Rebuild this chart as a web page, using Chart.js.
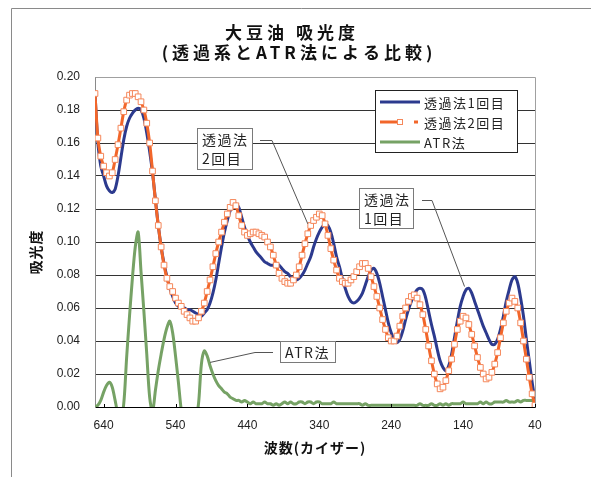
<!DOCTYPE html>
<html>
<head>
<meta charset="utf-8">
<script src="https://cdn.jsdelivr.net/npm/chart.js@4.4.1/dist/chart.umd.min.js"></script>
<style>
  html, body { margin: 0; padding: 0; background: #fff; }
  canvas { display: block; }
</style>
</head>
<body>
<canvas id="chart" width="591" height="477"></canvas>
<script>
// Wavenumbers (cm-1), high to low
const wavenumbers = [
  652,648,644,640,636,632,628,624,620,616,
  612,608,604,600,596,592,588,584,580,576,
  572,568,564,560,556,552,548,544,540,536,
  532,528,524,520,516,512,508,504,500,496,
  492,488,484,480,476,472,468,464,460,456,
  452,448,444,440,436,432,428,424,420,416,
  412,408,404,400,396,392,388,384,380,376,
  372,368,364,360,356,352,348,344,340,336,
  332,328,324,320,316,312,308,304,300,296,
  292,288,284,280,276,272,268,264,260,256,
  252,248,244,240,236,232,228,224,220,216,
  212,208,204,200,196,192,188,184,180,176,
  172,168,164,160,156,152,148,144,140,136,
  132,128,124,120,116,112,108,104,100,96,
  92,88,84,80,76,72,68,64,60,56,
  52,48,44,40
];

// Transmission, 1st run
const transmission1 = [
  0.190,0.160,0.146,0.140,0.134,0.131,0.130,0.132,0.140,0.151,
  0.162,0.170,0.175,0.178,0.180,0.181,0.180,0.175,0.166,0.155,
  0.142,0.126,0.110,0.097,0.087,0.079,0.072,0.067,0.063,0.061,
  0.060,0.060,0.059,0.059,0.058,0.057,0.056,0.055,0.057,0.059,
  0.063,0.069,0.077,0.087,0.097,0.106,0.113,0.119,0.122,0.123,
  0.121,0.115,0.109,0.104,0.100,0.097,0.094,0.092,0.090,0.088,
  0.087,0.086,0.086,0.087,0.086,0.084,0.082,0.081,0.079,0.078,
  0.077,0.078,0.080,0.083,0.087,0.091,0.097,0.102,0.106,0.109,
  0.111,0.110,0.106,0.099,0.091,0.085,0.078,0.072,0.067,0.064,
  0.063,0.064,0.066,0.069,0.074,0.079,0.083,0.084,0.081,0.075,
  0.067,0.059,0.051,0.045,0.041,0.039,0.041,0.046,0.053,0.059,
  0.064,0.068,0.071,0.072,0.071,0.066,0.058,0.050,0.043,0.035,
  0.028,0.024,0.022,0.025,0.032,0.042,0.052,0.061,0.067,0.071,
  0.072,0.069,0.064,0.059,0.054,0.049,0.045,0.041,0.038,0.038,
  0.041,0.047,0.055,0.064,0.071,0.077,0.079,0.075,0.066,0.055,
  0.041,0.028,0.015,0.004
];

// Transmission, 2nd run
const transmission2 = [
  0.190,0.163,0.152,0.146,0.142,0.140,0.142,0.150,0.159,0.169,
  0.179,0.186,0.189,0.190,0.190,0.188,0.185,0.180,0.172,0.160,
  0.143,0.125,0.110,0.097,0.086,0.078,0.073,0.070,0.066,0.063,
  0.061,0.058,0.056,0.054,0.052,0.052,0.054,0.058,0.063,0.070,
  0.077,0.085,0.093,0.100,0.106,0.112,0.117,0.121,0.124,0.122,
  0.116,0.110,0.106,0.104,0.105,0.106,0.106,0.105,0.104,0.103,
  0.100,0.097,0.092,0.086,0.081,0.078,0.076,0.075,0.075,0.077,
  0.080,0.085,0.092,0.099,0.105,0.110,0.113,0.115,0.117,0.116,
  0.111,0.104,0.096,0.089,0.083,0.078,0.076,0.075,0.075,0.077,
  0.079,0.082,0.085,0.087,0.087,0.084,0.079,0.073,0.067,0.060,
  0.053,0.047,0.042,0.040,0.040,0.043,0.049,0.055,0.060,0.064,
  0.067,0.068,0.066,0.062,0.056,0.047,0.037,0.028,0.020,0.014,
  0.011,0.012,0.016,0.022,0.029,0.038,0.047,0.052,0.055,0.054,
  0.050,0.044,0.037,0.030,0.024,0.020,0.017,0.018,0.021,0.026,
  0.033,0.042,0.051,0.058,0.063,0.066,0.064,0.060,0.051,0.040,
  0.029,0.018,0.008,0.001
];

// ATR measurement
const atrValues = [
  0.000,0.001,0.004,0.009,0.013,0.015,0.012,0.004,-0.004,-0.006,
  0.002,0.030,0.055,0.078,0.097,0.106,0.082,0.058,0.032,0.006,
  -0.003,0.010,0.022,0.032,0.041,0.048,0.052,0.045,0.031,0.015,
  -0.002,-0.012,-0.018,-0.020,-0.016,-0.008,0.002,0.026,0.034,0.031,
  0.025,0.020,0.016,0.013,0.011,0.009,0.008,0.006,0.005,0.004,
  0.004,0.003,0.004,0.003,0.002,0.003,0.002,0.002,0.002,0.003,
  0.002,0.002,0.001,0.002,0.001,0.002,0.003,0.002,0.003,0.002,
  0.002,0.003,0.003,0.002,0.003,0.003,0.002,0.003,0.003,0.002,
  0.002,0.002,0.002,0.003,0.002,0.002,0.002,0.002,0.002,0.002,
  0.002,0.002,0.002,0.001,0.002,0.001,0.001,0.001,0.001,0.001,
  0.001,0.001,0.001,0.001,0.001,0.001,0.001,0.001,0.001,0.001,
  0.001,0.001,0.001,0.002,0.001,0.001,0.001,0.002,0.001,0.001,
  0.002,0.001,0.002,0.001,0.002,0.002,0.002,0.002,0.003,0.002,
  0.002,0.002,0.002,0.002,0.003,0.002,0.003,0.002,0.002,0.003,
  0.003,0.003,0.003,0.004,0.003,0.003,0.003,0.004,0.003,0.004,
  0.004,0.004,0.004,0.004
];

const xTickValues = [640, 540, 440, 340, 240, 140, 40];
const seriesNames = ['透過法1回目', '透過法2回目', 'ATR法'];
const titleLines = ['大豆油 吸光度', '(透過系とATR法による比較)'];
const xAxisTitle = '波数(カイザー)';
const yAxisTitle = '吸光度';

const toPoints = vals => wavenumbers.map((w, i) => ({ x: w, y: vals[i] }));

const CJK = "'Noto Sans CJK JP', 'Liberation Sans', sans-serif";
const COLORS = { blue: '#2c3a8e', orange: '#f2662a', orangeMark: '#f5875a', green: '#76a265' };

// Callout labels with leader lines; the leader ends at a data-space anchor
const callouts = [
  { lines: ['透過法', '2回目'], box: [197, 128, 55, 41], elbow: [[260, 140], [272, 140]], anchor: { x: 356, y: 0.111 } },
  { lines: ['透過法', '1回目'], box: [359, 188, 54, 40], elbow: [[422, 200], [432, 200]], anchor: { x: 138, y: 0.073 } },
  { lines: ['ATR法'], box: [280, 341, 55, 21], elbow: [[273, 352], [255, 352]], anchor: { x: 492, y: 0.027 } }
];

const decorPlugin = {
  id: 'decor',
  beforeDraw(chart) {
    const ctx = chart.ctx;
    ctx.save();
    ctx.fillStyle = '#fff';
    ctx.fillRect(0, 0, chart.width, chart.height);
    // outer frame
    ctx.strokeStyle = '#8a8a8a';
    ctx.lineWidth = 1;
    ctx.beginPath();
    ctx.moveTo(11.5, chart.height);
    ctx.lineTo(11.5, 8.5);
    ctx.lineTo(chart.width, 8.5);
    ctx.stroke();
    ctx.restore();
  },
  afterDraw(chart) {
    const ctx = chart.ctx;
    const area = chart.chartArea;
    const xs = chart.scales.x, ys = chart.scales.y;
    ctx.save();

    // plot area border (top and right)
    ctx.strokeStyle = '#a0a0a0';
    ctx.lineWidth = 1;
    ctx.beginPath();
    ctx.moveTo(Math.round(area.left) + 0.5, Math.round(area.top) + 0.5);
    ctx.lineTo(Math.round(area.right) + 0.5, Math.round(area.top) + 0.5);
    ctx.lineTo(Math.round(area.right) + 0.5, Math.round(area.bottom) + 0.5);
    ctx.stroke();

    // short tick marks on the wavenumber axis
    ctx.strokeStyle = '#000';
    ctx.beginPath();
    xTickValues.forEach(v => {
      const px = Math.round(xs.getPixelForValue(v)) + 0.5;
      ctx.moveTo(px, area.bottom);
      ctx.lineTo(px, area.bottom - 3);
    });
    ctx.stroke();

    // titles
    ctx.fillStyle = '#111';
    ctx.textBaseline = 'middle';
    ctx.textAlign = 'center';
    ctx.font = 'bold 17px ' + CJK;
    ctx.letterSpacing = '4px';
    ctx.fillText(titleLines[0], 292, 33);
    ctx.fillText(titleLines[1], 299, 53);

    ctx.font = 'bold 14px ' + CJK;
    ctx.letterSpacing = '1px';
    ctx.fillText(xAxisTitle, 315, 448);
    ctx.save();
    ctx.translate(36, 252);
    ctx.rotate(-Math.PI / 2);
    ctx.fillText(yAxisTitle, 0, 0);
    ctx.restore();

    // callouts
    ctx.letterSpacing = '1.5px';
    ctx.font = '14px ' + CJK;
    callouts.forEach(c => {
      const [bx, by, bw, bh] = c.box;
      ctx.strokeStyle = '#555';
      ctx.lineWidth = 1;
      ctx.beginPath();
      ctx.moveTo(c.elbow[0][0], c.elbow[0][1] + 0.5);
      ctx.lineTo(c.elbow[1][0], c.elbow[1][1] + 0.5);
      ctx.lineTo(xs.getPixelForValue(c.anchor.x), ys.getPixelForValue(c.anchor.y));
      ctx.stroke();
      ctx.fillStyle = '#fff';
      ctx.fillRect(bx, by, bw, bh);
      ctx.strokeStyle = '#7a7a7a';
      ctx.strokeRect(bx + 0.5, by + 0.5, bw, bh);
      ctx.fillStyle = '#222';
      ctx.textAlign = 'left';
      c.lines.forEach((t, i) => ctx.fillText(t, bx + 5, by + (c.lines.length === 1 ? bh / 2 + 1 : 12 + i * 19)));
    });

    // legend
    const lx = 375, ly = 90, lw = 142, lh = 62;
    ctx.fillStyle = '#fff';
    ctx.fillRect(lx, ly, lw, lh);
    ctx.strokeStyle = '#222';
    ctx.strokeRect(lx + 0.5, ly + 0.5, lw, lh);
    ctx.font = '13px ' + CJK;
    ctx.letterSpacing = '1.5px';
    chart.data.datasets.forEach((ds, i) => {
      const y = ly + 12 + i * 20;
      ctx.strokeStyle = ds.borderColor;
      ctx.lineWidth = 3;
      ctx.beginPath();
      if (ds.pointRadius > 0) {
        ctx.moveTo(380, y); ctx.lineTo(398, y);
        ctx.stroke();
        ctx.fillStyle = '#fff';
        ctx.strokeStyle = ds.pointBorderColor;
        ctx.lineWidth = 1;
        ctx.fillRect(397, y - 2.5, 5, 5);
        ctx.strokeRect(397.5, y - 2.5, 5, 5);
        ctx.fillStyle = ds.borderColor;
        ctx.fillRect(414, y - 1.5, 4, 3);
      } else {
        ctx.moveTo(380, y); ctx.lineTo(420, y);
        ctx.stroke();
      }
      ctx.fillStyle = '#222';
      ctx.textAlign = 'left';
      ctx.fillText(ds.label, 424, y + 1);
    });
    ctx.restore();
  }
};

Chart.defaults.font.family = "'Liberation Sans', 'Noto Sans CJK JP', sans-serif";

new Chart(document.getElementById('chart'), {
  type: 'line',
  data: {
    datasets: [
      {
        label: seriesNames[0], data: toPoints(transmission1),
        borderColor: COLORS.blue, borderWidth: 3, pointRadius: 0, order: 1
      },
      {
        label: seriesNames[1], data: toPoints(transmission2),
        borderColor: COLORS.orange, borderWidth: 3,
        pointStyle: 'rect', pointRadius: 4, pointBorderWidth: 1,
        pointBackgroundColor: '#fff', pointBorderColor: COLORS.orangeMark, order: 0
      },
      {
        label: seriesNames[2], data: toPoints(atrValues),
        borderColor: COLORS.green, borderWidth: 3, pointRadius: 0, order: 2
      }
    ]
  },
  options: {
    responsive: false,
    animation: false,
    devicePixelRatio: 1,
    layout: { padding: { top: 77, right: 56, left: 0, bottom: 0 } },
    elements: { line: { tension: 0.3, borderJoinStyle: 'round', borderCapStyle: 'round' } },
    plugins: { legend: { display: false }, title: { display: false }, tooltip: { enabled: false } },
    scales: {
      x: {
        type: 'linear', reverse: true, min: 40, max: 652,
        afterBuildTicks: s => { s.ticks = xTickValues.map(v => ({ value: v })); },
        afterFit: s => { s.height = 70; },
        grid: { display: false, drawTicks: false },
        border: { display: true, color: '#000', width: 1 },
        ticks: { padding: 11, autoSkip: false, maxRotation: 0, color: '#222', font: { size: 12 } }
      },
      y: {
        min: 0, max: 0.2,
        afterFit: s => { s.width = 95; },
        grid: {
          drawTicks: false, lineWidth: 1,
          color: c => (Math.abs(c.tick.value - 0.2) < 1e-9 ? '#a0a0a0' : '#333')
        },
        border: { display: true, color: '#8a8a8a' },
        ticks: { stepSize: 0.02, padding: 15, color: '#222', font: { size: 12 }, callback: v => v.toFixed(2) }
      }
    }
  },
  plugins: [decorPlugin]
});
</script>
</body>
</html>
